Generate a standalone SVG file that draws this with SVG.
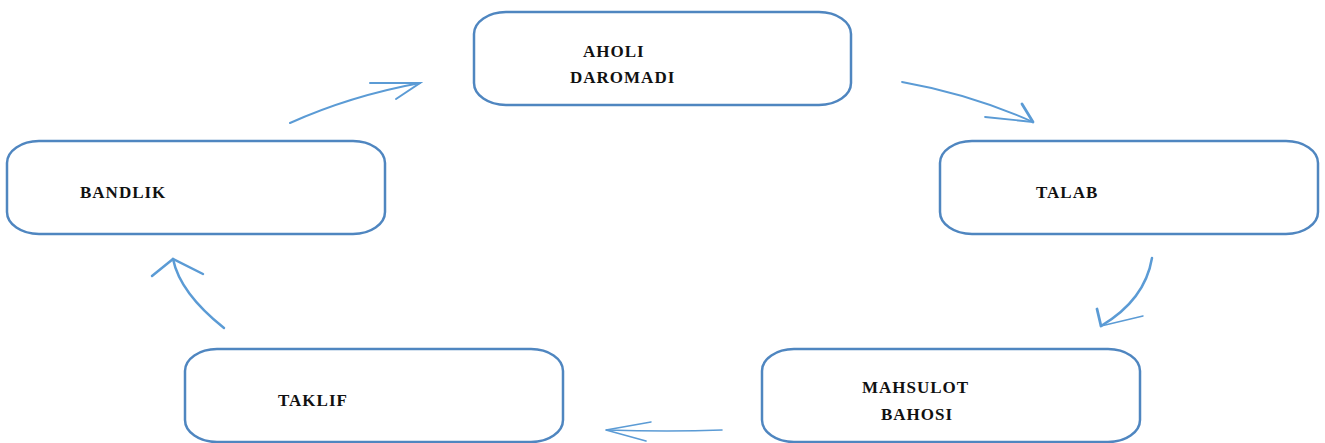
<svg xmlns="http://www.w3.org/2000/svg" width="1325" height="443" viewBox="0 0 1325 443">
<style>
.box{fill:#fff;stroke:#4F86C0;stroke-width:2.5}
.lbl{font-family:"Liberation Serif",serif;font-weight:bold;font-size:17px;letter-spacing:1px;fill:#111}
.c{fill:none;stroke:#5B9BD5;stroke-linecap:round}
</style>
<rect width="1325" height="443" fill="#fff"/>
<g id="aholi"><rect class="box" x="474" y="12" width="377" height="93" rx="32" ry="22"/><text class="lbl" x="583" y="57">AHOLI</text><text class="lbl" x="570" y="83">DAROMADI</text></g>
<g id="bandlik"><rect class="box" x="7" y="141" width="378" height="93" rx="32" ry="22"/><text class="lbl" x="80" y="198">BANDLIK</text></g>
<g id="talab"><rect class="box" x="940" y="141" width="378" height="93" rx="32" ry="22"/><text class="lbl" x="1036" y="198">TALAB</text></g>
<g id="taklif"><rect class="box" x="185" y="349" width="378" height="93" rx="32" ry="22"/><text class="lbl" x="278" y="406">TAKLIF</text></g>
<g id="mahsulot"><rect class="box" x="762" y="349" width="378" height="93" rx="32" ry="22"/><text class="lbl" x="862" y="393">MAHSULOT</text><text class="lbl" x="881" y="420">BAHOSI</text></g>
<g id="connectors">
<path class="c" stroke-width="2" d="M290 123 Q350 96 420 83"/>
<path class="c" stroke-width="2" d="M370 83 L420 83 L396 99"/>
<path class="c" stroke-width="1.8" d="M902 82 Q970 94 1033 122"/>
<path class="c" stroke-width="1.8" d="M985 117 L1033 122"/>
<path class="c" stroke-width="2.8" d="M1022 104 L1033 122"/>
<path class="c" stroke-width="2.5" d="M1152 258 Q1145 300 1101 326"/>
<path class="c" stroke-width="2.8" d="M1097 309 L1101 326"/>
<path class="c" stroke-width="1.5" d="M1101 326 L1143 316"/>
<path class="c" stroke-width="1.6" d="M722 430 Q670 432 606 430"/>
<path class="c" stroke-width="1.6" d="M651 422 L606 430 L646 441"/>
<path class="c" stroke-width="2.5" d="M224 328 Q180 293 173 259"/>
<path class="c" stroke-width="2.5" d="M152 276 L173 259 L203 274"/>
</g>
</svg>
